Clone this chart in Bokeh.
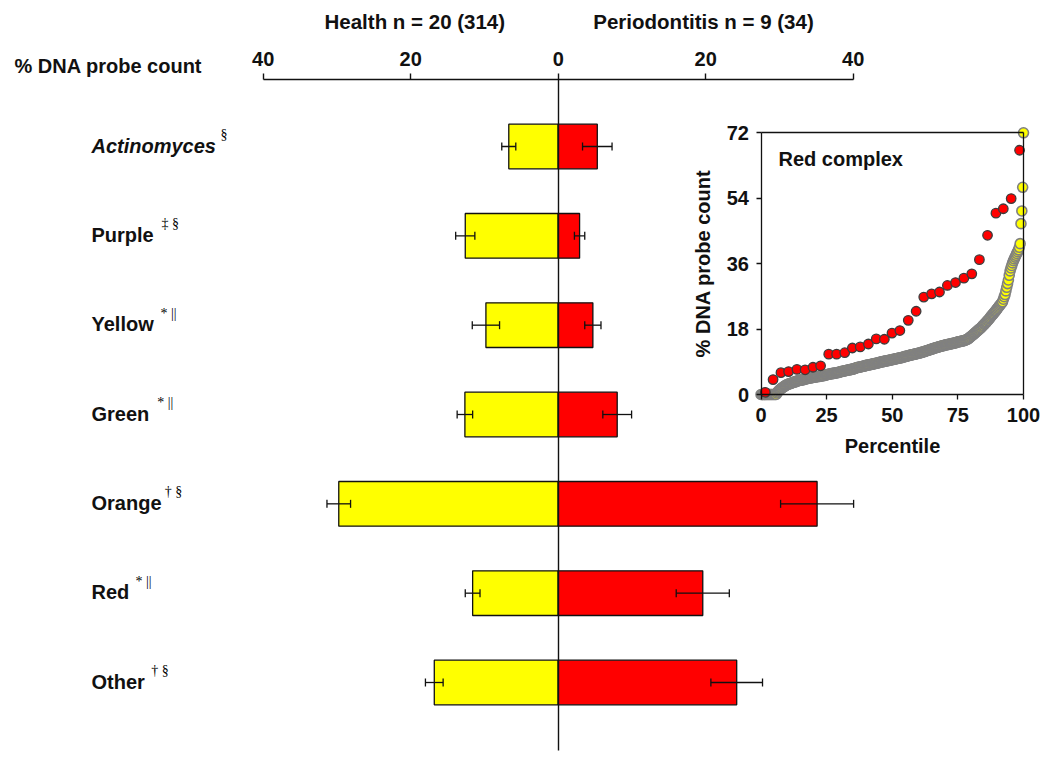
from bokeh.plotting import figure
from bokeh.models import (Range1d, LinearAxis, FixedTicker, Whisker, ColumnDataSource,
                          TeeHead, CustomJSTickFormatter)
from bokeh.core.properties import value
from bokeh.embed import file_html
from bokeh.resources import INLINE

# ---------------- data ----------------
categories = ["Actinomyces", "Purple", "Yellow", "Green", "Orange", "Red", "Other"]
superscripts = ["§", "‡ §", "* ||", "* ||", "† §", "* ||", "† §"]
health = [6.7, 12.6, 9.8, 12.65, 29.75, 11.6, 16.8]
health_err = [0.95, 1.3, 1.85, 1.05, 1.6, 1.0, 1.2]
perio = [5.3, 2.9, 4.7, 8.0, 35.1, 19.6, 24.2]
perio_err = [2.0, 0.7, 1.1, 1.95, 4.95, 3.6, 3.5]
axis_ticks = [-40, -20, 0, 20, 40]
title_health = "Health n = 20 (314)"
title_perio = "Periodontitis n = 9 (34)"

# inset: red complex, % DNA probe count sorted (health n = 314 sites)
inset_health = [
    0, 0, 0, 0, 0, 0, 0, 0, 0, 0, 0, 0, 0, 0, 0, 0, 0, 0, 0,
    0.4, 0.7, 1.0, 1.2, 1.4, 1.6, 1.8, 2.0, 2.1, 2.3, 2.4, 2.6, 2.7,
    2.8, 2.9, 3.0, 3.0, 3.1, 3.2,
    3.3, 3.4, 3.4, 3.5, 3.6, 3.7,
    3.8, 3.8, 3.9, 3.9, 4.0, 4.0, 4.1, 4.1, 4.2, 4.3,
    4.3, 4.4, 4.4, 4.5, 4.5, 4.6, 4.6, 4.7, 4.7,
    4.8, 4.8, 4.8, 4.9, 4.9, 5.0, 5.0, 5.0, 5.1, 5.1, 5.2, 5.2, 5.2, 5.3, 5.3, 5.4,
    5.5, 5.5, 5.6, 5.6, 5.7, 5.7, 5.8, 5.8, 5.8, 5.9, 5.9, 6.0, 6.0, 6.1, 6.1, 6.2,
    6.3, 6.3, 6.4, 6.4, 6.5, 6.5, 6.6, 6.6, 6.7, 6.7, 6.8, 6.8, 6.9, 6.9, 7.0, 7.0, 7.1, 7.2, 7.3,
    7.4, 7.4, 7.5, 7.5, 7.6, 7.6, 7.7, 7.7, 7.8, 7.8, 7.9, 8.0,
    8.0, 8.1, 8.1, 8.2, 8.2, 8.3, 8.3, 8.4, 8.4, 8.5, 8.5, 8.6, 8.6, 8.7, 8.7, 8.8,
    8.9, 8.9, 9.0, 9.0, 9.1, 9.1, 9.2, 9.2, 9.3, 9.3, 9.4, 9.4, 9.5, 9.5, 9.6,
    9.6, 9.7, 9.7, 9.8, 9.8, 9.9, 9.9, 10.0, 10.0, 10.1, 10.1, 10.2, 10.3, 10.3, 10.4, 10.5,
    10.5, 10.6, 10.6, 10.7, 10.8, 10.8, 10.9, 10.9, 11.0, 11.0, 11.1, 11.1, 11.2, 11.3, 11.3, 11.4, 11.4, 11.5, 11.6,
    11.6, 11.7, 11.8, 11.8, 11.9, 12.0, 12.1, 12.1, 12.2, 12.3, 12.4, 12.5,
    12.5, 12.6, 12.7, 12.8, 12.8, 12.9, 13.0, 13.0, 13.1, 13.2, 13.2, 13.3, 13.4, 13.4, 13.5, 13.6,
    13.6, 13.7, 13.7, 13.8, 13.8, 13.9, 13.9, 14.0, 14.0, 14.1, 14.1, 14.2, 14.2, 14.3, 14.4, 14.5,
    14.5, 14.6, 14.6, 14.7, 14.7, 14.8, 14.8, 14.9, 15.0, 15.1, 15.2, 15.3,
    15.5, 15.7, 15.9, 16.1, 16.3, 16.5,
    16.7, 16.9, 17.1, 17.3, 17.5, 17.7, 17.9, 18.1, 18.3, 18.5,
    18.8, 19.0, 19.3, 19.5, 19.8, 20.0, 20.3, 20.5, 20.8,
    21.1, 21.4, 21.7, 22.0, 22.2, 22.5,
    22.8, 23.1, 23.4, 23.7, 24.0, 24.3,
    24.6, 24.9, 25.2, 25.5,
    26.2, 26.9, 27.5,
    28.5, 29.5, 30.5,
    31.5, 32.8, 34.0,
    34.8, 35.5, 36.2,
    36.8, 37.3, 37.8,
    38.3, 38.8, 39.3,
    39.8, 40.5,
    41.5, 47.0, 50.5, 57.0, 72.0,
]
# periodontitis sites
inset_perio_pct = [1.65, 4.6, 7.6, 10.5, 13.7, 16.8, 19.8, 22.7, 25.8, 28.8, 31.9, 34.8,
                   37.8, 40.9, 43.9, 47.0, 49.9, 52.9, 56.1, 59.1, 62.0, 65.0, 68.0, 71.0,
                   74.1, 77.3, 80.3, 83.2, 86.3, 89.5, 92.3, 95.3, 98.5]
inset_perio_val = [0.6, 4.1, 6.0, 6.3, 6.9, 6.8, 7.5, 7.9, 11.1, 11.1, 11.5, 12.8,
                   13.1, 13.9, 15.3, 15.2, 16.9, 17.6, 20.4, 22.9, 26.8, 27.7, 28.2, 30.0,
                   30.8, 32.0, 33.2, 37.1, 43.8, 49.9, 51.1, 53.9, 67.2]
inset_yticks = [0, 18, 36, 54, 72]
inset_xticks = [0, 25, 50, 75, 100]

# ---------------- layout constants (page pixels) ----------------
W, H = 1042, 753
PAGE = 0
TXT = -8                              # text glyph vertical correction (px)
X0_PX, X_PER = 557.7, 7.376          # main x: value 0 position, px per unit
Y_FIRST_PX, Y_LAST_PX = 146.0, 682.0  # centres of first / last category
n = len(categories)
y_per = (Y_LAST_PX - Y_FIRST_PX) / (n - 1)


def mx(px):
    return (px - X0_PX) / X_PER


def my(py):
    return (n - 1) - (py - Y_FIRST_PX) / y_per


IX0, IX1 = 760.5, 1023.0   # inset x 0 and 100
IY0, IY1 = 394.0, 132.3    # inset y 0 and 72
ix_per = (IX1 - IX0) / 100.0
iy_per = (IY0 - IY1) / 72.0


def ix(px):
    return (px - IX0) / ix_per


def iy(py):
    return (IY0 - py) / iy_per


FONT_NAME = "Liberation Sans"
FONT = value(FONT_NAME)
BLACK = "#111111"

p = figure(width=W, height=H,
           x_range=Range1d(mx(PAGE), mx(PAGE + W)),
           y_range=Range1d(my(PAGE + H), my(PAGE)),
           output_backend="svg", toolbar_location=None,
           x_axis_location=None, y_axis_location=None,
           min_border=0, outline_line_color=None,
           background_fill_color="white", border_fill_color="white")
p.extra_x_ranges = {"ix": Range1d(ix(PAGE), ix(PAGE + W))}
p.extra_y_ranges = {"iy": Range1d(iy(PAGE + H), iy(PAGE))}
for g in p.grid:
    g.visible = False

ypos = [n - 1 - i for i in range(n)]
src = ColumnDataSource(dict(
    y=ypos, cat=categories, sup=superscripts,
    hleft=[-h for h in health], pright=perio,
    hl=[-(h + e) for h, e in zip(health, health_err)],
    hu=[-(h - e) for h, e in zip(health, health_err)],
    pl=[v - e for v, e in zip(perio, perio_err)],
    pu=[v + e for v, e in zip(perio, perio_err)],
    style=["bold italic" if c == "Actinomyces" else "bold" for c in categories],
    sup_off=[129, 70, 69, 65.7, 73.3, 44, 59.7],
))

# bars
p.hbar(y="y", left="hleft", right=0, height=0.5, source=src,
       fill_color="#FFFF00", line_color=BLACK, line_width=1.3)
p.hbar(y="y", left=0, right="pright", height=0.5, source=src,
       fill_color="#FF0000", line_color=BLACK, line_width=1.3)

# error bars
for lo, hi in (("hl", "hu"), ("pl", "pu")):
    w = Whisker(source=src, base="y", lower=lo, upper=hi, dimension="width",
                line_color=BLACK, line_width=1.3, level="overlay",
                upper_head=TeeHead(size=8, line_width=1.3, line_color=BLACK),
                lower_head=TeeHead(size=8, line_width=1.3, line_color=BLACK))
    p.add_layout(w)

# top axis
top_ax = LinearAxis(fixed_location=my(79), bounds=(-40, 40),
                    ticker=FixedTicker(ticks=axis_ticks),
                    formatter=CustomJSTickFormatter(code="return Math.abs(tick).toString()"))
# center vertical line
mid_ax = LinearAxis(fixed_location=0, bounds=(my(750), my(79)),
                    ticker=FixedTicker(ticks=[]))
for ax in (top_ax, mid_ax):
    ax.axis_line_color = BLACK
    ax.axis_line_width = 1.4
    ax.major_tick_line_color = BLACK
    ax.major_tick_line_width = 1.4
    ax.major_tick_out = 6
    ax.major_tick_in = 0
    ax.minor_tick_line_color = None
    ax.major_label_text_font = FONT_NAME
    ax.major_label_text_font_style = "bold"
    ax.major_label_text_font_size = "20px"
    ax.major_label_text_color = BLACK
    ax.major_label_standoff = 8
p.add_layout(top_ax, "above")
p.add_layout(mid_ax, "left")

# category labels + superscripts
p.text(x=mx(91), y="y", text="cat", source=src, text_font=FONT,
       text_font_style="style", text_font_size="20px", text_color=BLACK,
       text_baseline="alphabetic", text_align="left", y_offset=7 + TXT)
p.text(x=mx(91), y="y", text="sup", source=src, x_offset="sup_off",
       text_font=value("Liberation Serif"), text_font_size="14px", text_color="#000000",
       text_baseline="alphabetic", text_align="left", y_offset=-4 + TXT)

# headings
p.text(x=[mx(414.3), mx(703)], y=[my(29), my(29)], text=[title_health, title_perio],
       text_font=FONT, text_font_style="bold", text_font_size="20.5px",
       text_color=BLACK, text_align="center", text_baseline="alphabetic", y_offset=TXT)
p.text(x=[mx(14)], y=[my(73)], text=["% DNA probe count"],
       text_font=FONT, text_font_style="bold", text_font_size="20px",
       text_color=BLACK, text_align="left", text_baseline="alphabetic", y_offset=TXT)

# ---------------- inset ----------------
nh = len(inset_health)
hpct = [i / (nh - 1) * 100 for i in range(nh)]
p.scatter(x=hpct, y=inset_health, x_range_name="ix", y_range_name="iy",
          size=10, fill_color="#FFFF00", line_color="#808080", line_width=1.6)
p.scatter(x=inset_perio_pct, y=inset_perio_val, x_range_name="ix", y_range_name="iy",
          size=9.5, fill_color="#FF0000", line_color="#3c3c3c", line_width=1.3)

p.text(x=[ix(778)], y=[iy(166)], text=["Red complex"], x_range_name="ix", y_range_name="iy",
       text_font=FONT, text_font_style="bold", text_font_size="20px",
       text_color=BLACK, text_align="left", text_baseline="alphabetic", y_offset=TXT)

il = LinearAxis(x_range_name="ix", y_range_name="iy", fixed_location=0, bounds=(0, 72),
                ticker=FixedTicker(ticks=inset_yticks), axis_label="% DNA probe count")
ib = LinearAxis(x_range_name="ix", y_range_name="iy", fixed_location=0, bounds=(0, 100),
                ticker=FixedTicker(ticks=inset_xticks), axis_label="Percentile")
ir = LinearAxis(x_range_name="ix", y_range_name="iy", fixed_location=100, bounds=(0, 72),
                ticker=FixedTicker(ticks=[]))
it = LinearAxis(x_range_name="ix", y_range_name="iy", fixed_location=72, bounds=(0, 100),
                ticker=FixedTicker(ticks=[]))
for ax in (il, ib, ir, it):
    ax.axis_line_color = BLACK
    ax.axis_line_width = 1.3
    ax.major_tick_line_color = BLACK
    ax.major_tick_line_width = 1.3
    ax.major_tick_out = 5
    ax.major_tick_in = 0
    ax.minor_tick_line_color = None
    ax.major_label_text_font = FONT_NAME
    ax.major_label_text_font_style = "bold"
    ax.major_label_text_font_size = "20px"
    ax.major_label_text_color = BLACK
    ax.axis_label_text_font = FONT_NAME
    ax.axis_label_text_font_style = "bold"
    ax.axis_label_text_font_size = "20px"
    ax.axis_label_text_color = BLACK
il.major_label_standoff = 7
il.axis_label_standoff = 10
ib.major_label_standoff = 8
ib.axis_label_standoff = 10
p.add_layout(il, "left")
p.add_layout(ib, "below")
p.add_layout(ir, "right")
p.add_layout(it, "above")

open("out.html", "w").write(file_html(p, INLINE))
